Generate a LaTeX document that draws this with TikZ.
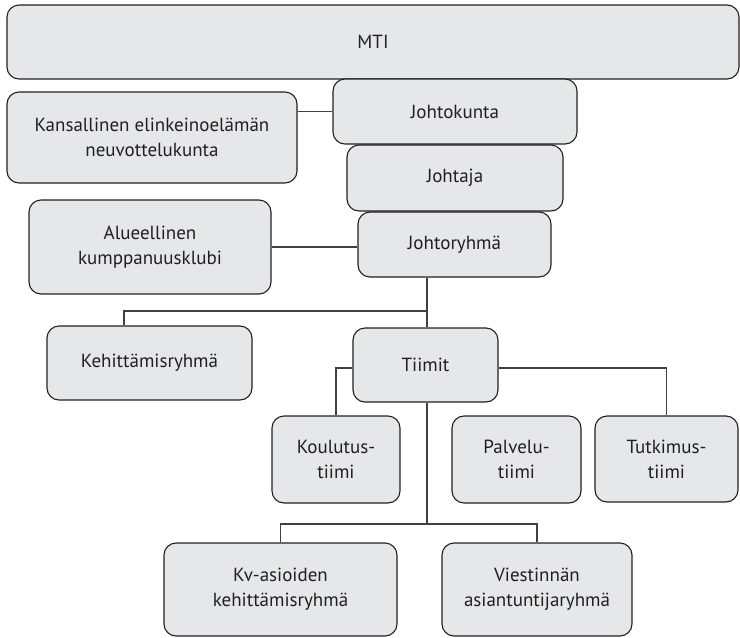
\documentclass[tikz,border=0pt]{standalone}
\usepackage{fontspec}
\setmainfont{PT Sans}
\definecolor{boxfill}{HTML}{E6E7E8}
\definecolor{boxline}{HTML}{231F20}
\definecolor{connc}{HTML}{404041}
\begin{document}
\begin{tikzpicture}[x=1pt,y=-1pt,
  box/.style={draw=boxline, fill=boxfill, line width=1.1pt, rounded corners=12pt,
    inner sep=0pt, align=center, font=\fontsize{19}{25}\selectfont, text=boxline},
  conn/.style={draw=connc, line width=1.4pt}]
\useasboundingbox (0,0) rectangle (740,638);
% coordinates
\coordinate (sp) at (427,0);
\coordinate (kx) at (124,0);
\coordinate (hy) at (0,311);
\coordinate (ty) at (0,368);
\coordinate (by) at (0,524);
% connectors
\node[box, minimum width=732pt, minimum height=74pt] (mti) at (373,42) {MTI};
\node[box, minimum width=244pt, minimum height=65pt] (jk) at (455,111.5) {Johtokunta};
\node[box, minimum width=216pt, minimum height=66pt] (jt) at (455,178) {Johtaja};
\node[box, minimum width=193pt, minimum height=65pt] (jr) at (454.5,244.5) {Johtoryhmä};
\node[box, minimum width=290pt, minimum height=91pt] (kn) at (152,137.5) {Kansallinen elinkeinoelämän\\neuvottelukunta};
\node[box, minimum width=242pt, minimum height=94pt] (al) at (150,247) {Alueellinen\\kumppanuusklubi};
\node[box, minimum width=205pt, minimum height=74pt] (kr) at (149.5,363) {Kehittämisryhmä};
\node[box, minimum width=145pt, minimum height=74pt] (ti) at (425.5,365) {Tiimit};
\node[box, minimum width=128pt, minimum height=87pt] (ko) at (336,459.5) {Koulutus-\\tiimi};
\node[box, minimum width=129pt, minimum height=87pt] (pa) at (516.5,459.5) {Palvelu-\\tiimi};
\node[box, minimum width=143pt, minimum height=86pt] (tu) at (666.5,459) {Tutkimus-\\tiimi};
\node[box, minimum width=233pt, minimum height=93pt] (kv) at (280.5,589.5) {Kv-asioiden\\kehittämisryhmä};
\node[box, minimum width=190pt, minimum height=93pt] (vi) at (537,589.5) {Viestinnän\\asiantuntijaryhmä};
% connectors
\draw[conn] (jk.west -| kn.east) -- (jk.west);
\draw[conn] (al.east) -- (al.east -| jr.west);
\draw[conn] (jr.south -| sp) -- (ti.north -| sp);
\draw[conn] (sp |- hy) -| (kr.north -| kx);
\draw[conn] (ti.west |- ty) -| (ko.north);
\draw[conn] (ti.east |- ty) -| (tu.north);
\draw[conn] (ti.south -| sp) -- (sp |- by);
\draw[conn] (kv.north) |- (vi.north |- by) -- (vi.north);
\end{tikzpicture}
\end{document}
